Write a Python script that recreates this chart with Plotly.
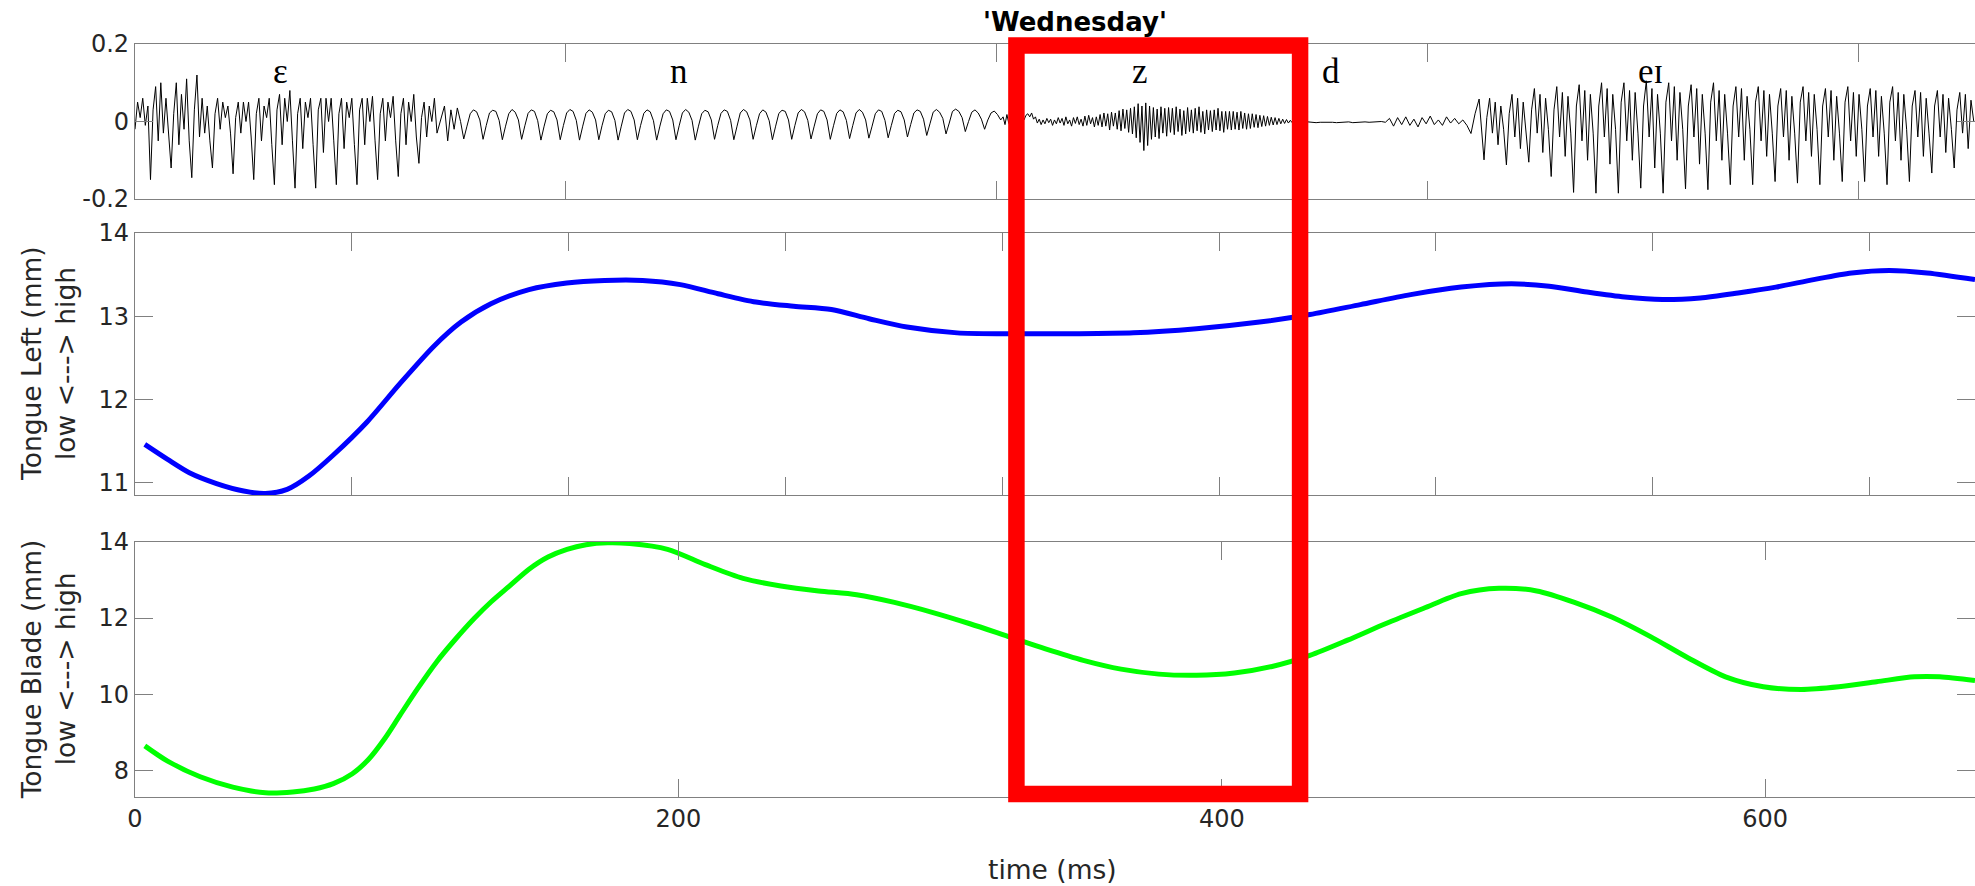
import plotly.graph_objects as go

# ---------------- DATA ----------------
# Tongue Left (blue), Tongue Blade (green): time in ms
tl_time = [3.6, 12.0, 20.0, 30.0, 40.0, 48.0, 56.0, 64.0, 72.9, 85.4, 97.5, 110.0, 120.0, 131.0, 145.0,
           158.9, 172.8, 186.8, 200.7, 214.6, 228.5, 242.4, 256.3, 270.2, 284.1, 302.6, 321.2, 344.4,
           367.5, 390.7, 413.9, 432.4, 451.0, 469.5, 488.1, 506.6, 520.5, 534.4, 548.3, 562.2, 576.1,
           590.0, 603.9, 617.8, 631.8, 645.7, 659.6, 677.2]
tongue_left = [11.46, 11.28, 11.12, 10.99, 10.90, 10.87, 10.92, 11.08, 11.33, 11.73, 12.19, 12.64, 12.93,
               13.15, 13.32, 13.40, 13.43, 13.43, 13.38, 13.27, 13.17, 13.12, 13.08, 12.97, 12.87, 12.80,
               12.79, 12.79, 12.80, 12.85, 12.93, 13.02, 13.14, 13.26, 13.35, 13.39, 13.36, 13.29, 13.23,
               13.20, 13.22, 13.28, 13.35, 13.44, 13.52, 13.55, 13.52, 13.44]

tb_time = [3.6, 12.0, 24.0, 36.0, 48.0, 58.0, 66.0, 73.0, 80.0, 86.0, 92.0, 97.5, 104.0, 111.0, 118.0,
           125.0, 131.0, 138.0, 145.0, 152.0, 159.0, 166.0, 174.0, 182.1, 196.0, 209.9, 223.8, 237.7,
           251.6, 265.6, 279.5, 293.4, 307.3, 321.2, 335.1, 349.0, 362.9, 376.8, 390.7, 404.6, 418.5,
           432.4, 446.3, 460.2, 474.1, 488.1, 502.0, 515.9, 529.8, 543.7, 557.6, 571.5, 585.4, 599.3,
           613.2, 627.1, 641.0, 654.9, 664.2, 677.2]
tongue_blade = [8.65, 8.25, 7.84, 7.57, 7.42, 7.44, 7.52, 7.66, 7.92, 8.30, 8.85, 9.45, 10.15, 10.85,
                11.45, 12.00, 12.42, 12.85, 13.28, 13.60, 13.80, 13.92, 13.97, 13.95, 13.80, 13.40, 13.04,
                12.84, 12.71, 12.61, 12.41, 12.15, 11.85, 11.52, 11.19, 10.89, 10.66, 10.53, 10.50, 10.56,
                10.73, 11.02, 11.42, 11.85, 12.25, 12.64, 12.78, 12.71, 12.41, 12.02, 11.52, 10.96, 10.46,
                10.20, 10.13, 10.20, 10.33, 10.46, 10.46, 10.36]

# Audio waveform, read per segment: (start ms, sample step ms, values)
eps_start, eps_step = 0.0, 0.95
eps_vals = [-0.02, 0.05, 0.01, 0.06, -0.01, 0.04,
            -0.15, 0.03, 0.09, -0.05, 0.10, -0.03, 0.06, -0.04,
            -0.12, 0.02, 0.10, -0.06, 0.07, -0.02, 0.11, -0.05,
            -0.145, 0.03, 0.12, -0.04, 0.06, -0.03, 0.04, -0.05,
            -0.12, 0.02, 0.06, -0.02, 0.05, 0.01, 0.04, -0.03,
            -0.135, 0.01, 0.05, -0.03, 0.05, 0.0, 0.05, -0.04,
            -0.15, 0.02, 0.06, -0.05, 0.04, 0.01, 0.06, -0.06,
            -0.163, 0.03, 0.07, -0.06, 0.06, 0.0, 0.08, -0.05,
            -0.172, 0.02, 0.06, -0.07, 0.05, 0.01, 0.06, -0.06,
            -0.172, 0.03, 0.06, -0.08, 0.06, 0.0, 0.06, -0.05,
            -0.163, 0.02, 0.06, -0.07, 0.05, 0.01, 0.06, -0.06,
            -0.163, 0.03, 0.06, -0.06, 0.06, 0.0, 0.065, -0.05,
            -0.15, 0.02, 0.06, -0.05, 0.05, 0.01, 0.065, -0.05,
            -0.142, 0.02, 0.06, -0.06, 0.05, 0.0, 0.07, -0.04,
            -0.108, 0.01, 0.05, -0.04, 0.04, 0.0, 0.06, -0.03]

n_start, n_step = 113.9, 1.1833
n_vals = [0.04, -0.05, 0.03, -0.02, 0.035, 0.0,
          -0.045, -0.012, 0.020, 0.030, 0.025, 0.004,
          -0.046, -0.010, 0.022, 0.029, 0.026, 0.003,
          -0.047, -0.012, 0.020, 0.031, 0.024, 0.004,
          -0.046, -0.011, 0.021, 0.030, 0.026, 0.002,
          -0.048, -0.012, 0.020, 0.029, 0.025, 0.004,
          -0.047, -0.010, 0.022, 0.031, 0.026, 0.003,
          -0.048, -0.012, 0.021, 0.030, 0.024, 0.004,
          -0.047, -0.011, 0.020, 0.029, 0.025, 0.003,
          -0.048, -0.012, 0.022, 0.031, 0.026, 0.004,
          -0.047, -0.010, 0.021, 0.030, 0.025, 0.002,
          -0.048, -0.012, 0.020, 0.030, 0.026, 0.004,
          -0.047, -0.011, 0.022, 0.031, 0.024, 0.003,
          -0.048, -0.012, 0.020, 0.029, 0.025, 0.004,
          -0.046, -0.010, 0.021, 0.030, 0.026, 0.003,
          -0.047, -0.012, 0.022, 0.031, 0.025, 0.004,
          -0.046, -0.011, 0.020, 0.030, 0.024, 0.002,
          -0.047, -0.012, 0.021, 0.029, 0.026, 0.004,
          -0.046, -0.010, 0.022, 0.031, 0.025, 0.003,
          -0.045, -0.012, 0.020, 0.030, 0.026, 0.004,
          -0.046, -0.011, 0.021, 0.030, 0.025, 0.003,
          -0.044, -0.010, 0.022, 0.031, 0.024, 0.004,
          -0.043, -0.012, 0.020, 0.030, 0.026, 0.003,
          -0.042, -0.010, 0.021, 0.029, 0.025, 0.004,
          -0.040, -0.008, 0.022, 0.030, 0.026, 0.006,
          -0.036, -0.006, 0.024, 0.031, 0.024, 0.008,
          -0.032, -0.004, 0.026, 0.032, 0.026, 0.010,
          -0.026, 0.000, 0.024, 0.030, 0.022, 0.006,
          -0.020, 0.004, 0.022, 0.027, 0.018, 0.004]

z_start, z_step = 319.5, 0.7
z_vals = [0.012, -0.008, 0.018, -0.005, 0.015, -0.010, 0.008, -0.012, 0.005, -0.004,
          0.010, 0.004, 0.016, 0.020, 0.012, 0.022, 0.006, 0.012, -0.004, 0.006,
          -0.008, 0.004, -0.006, 0.008, -0.003, 0.006, -0.010, 0.004, -0.006, 0.010,
          -0.004, 0.008, -0.010, 0.012, -0.006, 0.004, -0.012, 0.010, -0.005, 0.012,
          -0.008, 0.006, -0.012, 0.014, -0.010, 0.016, -0.006, 0.010, -0.014, 0.012,
          -0.010, 0.018, -0.014, 0.022, -0.012, 0.020, -0.022, 0.024, -0.012, 0.022,
          -0.020, 0.028, -0.024, 0.032, -0.018, 0.030, -0.028, 0.034, -0.032, 0.038,
          -0.042, 0.046, -0.054, 0.040, -0.075, 0.048, -0.062, 0.040, -0.046, 0.036,
          -0.040, 0.032, -0.044, 0.038, -0.030, 0.034, -0.038, 0.036, -0.028, 0.034,
          -0.034, 0.038, -0.026, 0.032, -0.036, 0.028, -0.032, 0.036, -0.026, 0.030,
          -0.030, 0.034, -0.024, 0.038, -0.028, 0.026, -0.032, 0.030, -0.022, 0.028,
          -0.026, 0.030, -0.022, 0.034, -0.024, 0.026, -0.028, 0.026, -0.020, 0.026,
          -0.022, 0.026, -0.020, 0.024, -0.022, 0.026, -0.018, 0.022, -0.020, 0.020,
          -0.018, 0.020, -0.015, 0.018, -0.016, 0.016, -0.013, 0.015, -0.012, 0.013,
          -0.010, 0.011, -0.009, 0.010, -0.008, 0.008, -0.006, 0.006, -0.005, 0.005,
          -0.004, 0.003, -0.003, 0.002, 0.0]

d_start, d_step = 428.7, 1.5
d_vals = [0.0, -0.002, -0.001, -0.002, -0.003, -0.002, -0.002, -0.001, -0.002, -0.003, -0.002,
          -0.002, -0.001, -0.003, -0.002, -0.002, -0.001, -0.002, -0.001, -0.001, 0.0, -0.002,
          0.008, -0.012, 0.010, -0.008, 0.012, -0.010, 0.006, -0.014, 0.010, -0.006, 0.014,
          -0.008, 0.004, -0.010, 0.012, -0.004, 0.008, -0.006, 0.004,
          -0.010, -0.031, 0.020, 0.058]

ei_start, ei_step = 496.5, 1.03
ei_vals = [-0.099, 0.01, 0.06, -0.03, 0.05, -0.06, 0.04, -0.02,
           -0.112, 0.02, 0.07, -0.04, 0.06, -0.07, 0.05, -0.03,
           -0.105, 0.03, 0.085, -0.03, 0.07, -0.08, 0.06, -0.02,
           -0.142, 0.03, 0.09, -0.04, 0.075, -0.09, 0.065, -0.03,
           -0.183, 0.04, 0.095, -0.05, 0.08, -0.10, 0.07, -0.03,
           -0.185, 0.04, 0.10, -0.04, 0.085, -0.11, 0.07, -0.02,
           -0.185, 0.05, 0.10, -0.05, 0.08, -0.10, 0.075, -0.03,
           -0.172, 0.04, 0.105, -0.04, 0.085, -0.12, 0.07, -0.03,
           -0.185, 0.05, 0.10, -0.05, 0.09, -0.10, 0.075, -0.02,
           -0.174, 0.04, 0.095, -0.04, 0.085, -0.11, 0.07, -0.03,
           -0.176, 0.05, 0.10, -0.05, 0.08, -0.10, 0.07, -0.03,
           -0.163, 0.04, 0.09, -0.04, 0.085, -0.10, 0.065, -0.02,
           -0.163, 0.05, 0.09, -0.05, 0.08, -0.09, 0.07, -0.03,
           -0.155, 0.04, 0.085, -0.04, 0.08, -0.10, 0.065, -0.03,
           -0.159, 0.05, 0.09, -0.05, 0.075, -0.09, 0.07, -0.02,
           -0.163, 0.04, 0.085, -0.04, 0.08, -0.10, 0.065, -0.03,
           -0.155, 0.05, 0.09, -0.05, 0.075, -0.09, 0.07, -0.02,
           -0.155, 0.04, 0.085, -0.04, 0.08, -0.09, 0.065, -0.03,
           -0.163, 0.05, 0.09, -0.05, 0.075, -0.10, 0.07, -0.02,
           -0.155, 0.04, 0.08, -0.04, 0.075, -0.09, 0.06, -0.03,
           -0.133, 0.04, 0.08, -0.04, 0.07, -0.08, 0.06, -0.02,
           -0.120, 0.03, 0.075, -0.03, 0.07, -0.07, 0.055, 0.0]

phonemes = ["ɛ", "n", "z", "d", "eɪ"]
phoneme_time = [53.4, 200.2, 369.9, 440.2, 557.6]
phoneme_level = 0.128

box_start_ms, box_end_ms = 324.4, 428.8
x_max_ms = 677.2

title_text = "'Wednesday'"
xlabel = "time (ms)"
ylabels = [("Tongue Left (mm)", "low <---> high"), ("Tongue Blade (mm)", "low <---> high")]

# ---------------- BUILD ----------------
wave_t, wave_v = [], []
for start, step, vals in [(eps_start, eps_step, eps_vals), (n_start, n_step, n_vals),
                          (z_start, z_step, z_vals), (d_start, d_step, d_vals),
                          (ei_start, ei_step, ei_vals)]:
    for i, v in enumerate(vals):
        wave_t.append(start + i * step)
        wave_v.append(v)

AX = "#808080"
TXT = "#262626"
SANS = "DejaVu Sans, Liberation Sans, Arial"
TICKFONT = dict(family=SANS, size=24, color=TXT)
LABFONT = dict(family=SANS, size=26.5, color=TXT)

fig = go.Figure()
fig.add_trace(go.Scatter(x=wave_t, y=wave_v, mode="lines", line=dict(color="black", width=1),
                         xaxis="x", yaxis="y", hoverinfo="skip"))
fig.add_trace(go.Scatter(x=tl_time, y=tongue_left, mode="lines",
                         line=dict(color="#0000ff", width=5, shape="spline", smoothing=0.8),
                         xaxis="x2", yaxis="y2"))
fig.add_trace(go.Scatter(x=tb_time, y=tongue_blade, mode="lines",
                         line=dict(color="#00ff00", width=5, shape="spline", smoothing=0.8),
                         xaxis="x3", yaxis="y3"))
# invisible traces for right-side tick axes
for ya, xa in [("y4", "x"), ("y5", "x2"), ("y6", "x3")]:
    fig.add_trace(go.Scatter(x=[None], y=[None], xaxis=xa, yaxis=ya, showlegend=False))

common = dict(showgrid=False, zeroline=False, showline=True, linecolor=AX, linewidth=1.3,
              ticks="inside", ticklen=18, tickwidth=1.3, tickcolor=AX, tickfont=TICKFONT)
right = dict(side="right", showticklabels=False, ticks="inside", ticklen=18, tickwidth=1.3,
             tickcolor=AX, showline=False, showgrid=False, zeroline=False)

dom_top = [0.79416, 1.0]
dom_mid = [0.40106, 0.74900]
dom_bot = [0.0, 0.33904]

fig.update_layout(
    width=1975, height=886,
    margin=dict(l=135, r=0, t=44, b=89),
    paper_bgcolor="white", plot_bgcolor="white", showlegend=False,
    xaxis=dict(common, domain=[0, 1], range=[0, x_max_ms], anchor="y", mirror="ticks",
               tick0=0, dtick=158.6, showticklabels=False),
    yaxis=dict(common, domain=dom_top, range=[-0.2, 0.2], anchor="x",
               tickvals=[-0.2, 0, 0.2], ticktext=["-0.2", "0", "0.2"]),
    xaxis2=dict(common, domain=[0, 1], range=[0, x_max_ms], anchor="y2", mirror="ticks",
                tick0=0, dtick=79.8, showticklabels=False),
    yaxis2=dict(common, domain=dom_mid, range=[10.852, 14], anchor="x2", tickvals=[11, 12, 13, 14]),
    xaxis3=dict(common, domain=[0, 1], range=[0, x_max_ms], anchor="y3", mirror="ticks",
                tickvals=[0, 200, 400, 600]),
    yaxis3=dict(common, domain=dom_bot, range=[7.31, 14], anchor="x3", tickvals=[8, 10, 12, 14]),
    yaxis4=dict(right, overlaying="y", anchor="x", range=[-0.2, 0.2], tickvals=[-0.2, 0, 0.2]),
    yaxis5=dict(right, overlaying="y2", anchor="x2", range=[10.852, 14], tickvals=[11, 12, 13, 14]),
    yaxis6=dict(right, overlaying="y3", anchor="x3", range=[7.31, 14], tickvals=[8, 10, 12, 14]),
)

ann = []
for ph, t in zip(phonemes, phoneme_time):
    ann.append(dict(x=t, y=phoneme_level, xref="x", yref="y", text=ph, showarrow=False,
                    font=dict(family="Liberation Serif, Times New Roman", size=35, color="black"),
                    xanchor="center", yanchor="middle"))
ann.append(dict(x=0.5, y=1, xref="paper", yref="paper", text="<b>" + title_text + "</b>", showarrow=False,
                font=dict(family=SANS, size=26, color="black"),
                xanchor="center", yanchor="middle", xshift=20, yshift=22))
ann.append(dict(x=0.5, y=0, xref="paper", yref="paper", text=xlabel, showarrow=False, font=LABFONT,
                xanchor="center", yanchor="middle", xshift=-3, yshift=-72))
for (l1, l2), dom in zip(ylabels, [dom_mid, dom_bot]):
    yc = (dom[0] + dom[1]) / 2
    ann.append(dict(x=0, y=yc, xref="paper", yref="paper", text=l1, showarrow=False, font=LABFONT,
                    textangle=-90, xanchor="center", yanchor="middle", xshift=-104))
    ann.append(dict(x=0, y=yc, xref="paper", yref="paper", text=l2, showarrow=False, font=LABFONT,
                    textangle=-90, xanchor="center", yanchor="middle", xshift=-70))
fig.update_layout(annotations=ann)

fig.add_shape(type="rect", xref="x3", yref="paper", x0=box_start_ms, x1=box_end_ms, y0=0.004, y1=0.9981,
              line=dict(color="#ff0000", width=16.5), fillcolor="rgba(0,0,0,0)", layer="above")

fig.write_html("out.html")
